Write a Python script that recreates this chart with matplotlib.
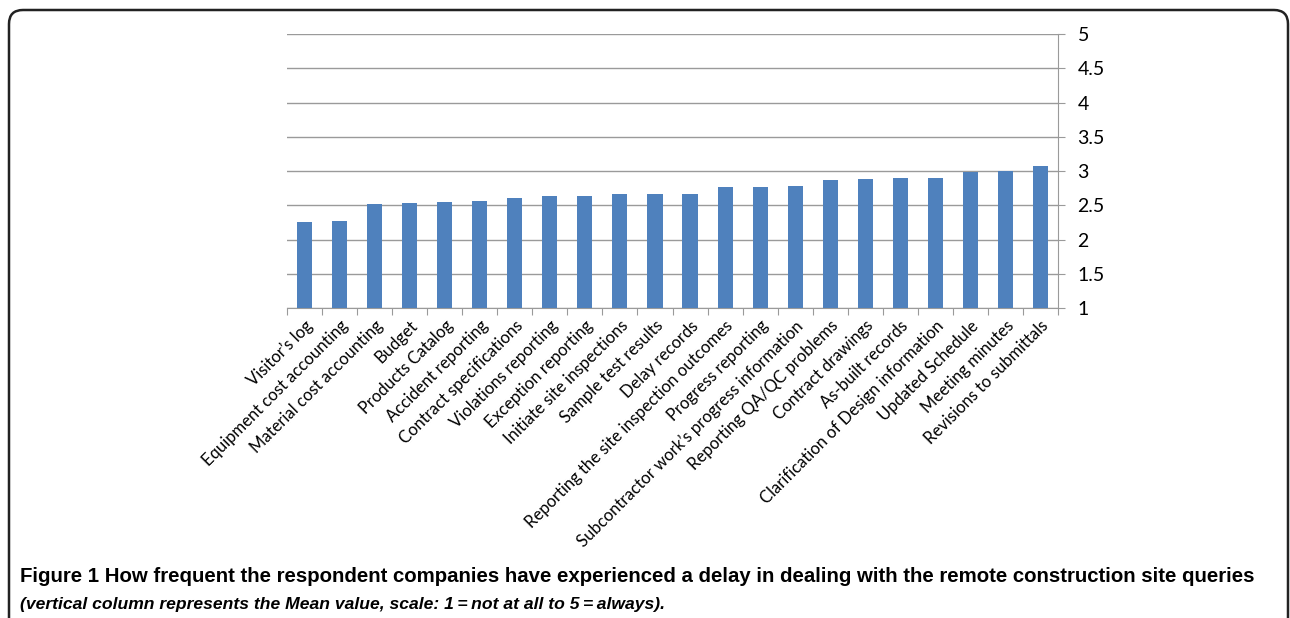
import numpy as np
import matplotlib
matplotlib.use("Agg")
import matplotlib.pyplot as plt
from matplotlib.patches import FancyBboxPatch
from matplotlib.transforms import IdentityTransform

# categories (left to right) and mean values
categories = ["Visitor\u2019s log", "Equipment cost accounting", "Material cost accounting",
              "Budget", "Products Catalog", "Accident reporting", "Contract specifications",
              "Violations reporting", "Exception reporting", "Initiate site inspections",
              "Sample test results", "Delay records", "Reporting the site inspection outcomes",
              "Progress reporting", "Subcontractor work\u2019s progress information",
              "Reporting QA/QC problems", "Contract drawings", "As-built records",
              "Clarification of Design information", "Updated Schedule", "Meeting minutes",
              "Revisions to submittals"]
means = [2.26, 2.27, 2.52, 2.53, 2.55, 2.56, 2.61, 2.64, 2.64, 2.66, 2.67,
         2.67, 2.76, 2.76, 2.78, 2.87, 2.88, 2.90, 2.90, 2.98, 3.00, 3.08]
yticks = [1, 1.5, 2, 2.5, 3, 3.5, 4, 4.5, 5]
yticklabels = ["1", "1.5", "2", "2.5", "3", "3.5", "4", "4.5", "5"]

caption1 = ("Figure 1 How frequent the respondent companies have experienced a delay "
            "in dealing with the remote construction site queries")
caption2 = "(vertical column represents the Mean value, scale: 1\u2009=\u2009not at all to 5\u2009=\u2009always)."

W, H = 1290, 618
fig = plt.figure(figsize=(W / 100, H / 100), dpi=100)
ax = fig.add_axes([287 / W, 1 - 308 / H, (1058 - 287) / W, (308 - 34) / H])

grey = "#9a9a9a"
x = np.arange(len(categories))
ax.bar(x, np.array(means) - 1, bottom=1, width=0.43, color="#4F81BD", zorder=3)

ax.set_xlim(-0.5, len(categories) - 0.5)
ax.set_ylim(1, 5)
ax.yaxis.tick_right()
ax.set_yticks(yticks)
ax.set_yticklabels(yticklabels, fontsize=14, family=["Lato", "DejaVu Sans"])
ax.tick_params(axis="y", direction="out", length=5, color=grey, pad=9)
ax.grid(axis="y", color=grey, linewidth=1, zorder=0)

# category ticks sit between bars, labels under bars
ax.set_xticks(np.arange(len(categories) + 1) - 0.5, minor=False)
ax.set_xticklabels([])
ax.tick_params(axis="x", direction="out", length=5, color=grey)
ax.set_xticks(x, minor=True)
ax.set_xticklabels(categories, minor=True, rotation=45, ha="right", va="top",
                   rotation_mode="anchor", fontsize=12, family=["Lato", "DejaVu Sans"])
ax.tick_params(axis="x", which="minor", length=0, pad=7)

for s in ["left", "top"]:
    ax.spines[s].set_visible(False)
for s in ["right", "bottom"]:
    ax.spines[s].set_color(grey)

# rounded frame around the figure (pixel coordinates)
frame = FancyBboxPatch((9, -40), 1279, H - 10 + 40,
                       boxstyle="round,pad=0,rounding_size=14",
                       transform=IdentityTransform(), fill=False,
                       edgecolor="#222222", linewidth=1.8)
fig.add_artist(frame)

fig.text(20 / W, 1 - 576 / H, caption1, fontsize=14.7, fontweight="bold",
         family=["Liberation Sans", "DejaVu Sans"], va="center", ha="left")
fig.text(20 / W, 1 - 604 / H, caption2, fontsize=12.6, fontweight="bold", style="italic",
         family=["Liberation Sans", "DejaVu Sans"], va="center", ha="left")

fig.savefig("out.png", dpi=100)
